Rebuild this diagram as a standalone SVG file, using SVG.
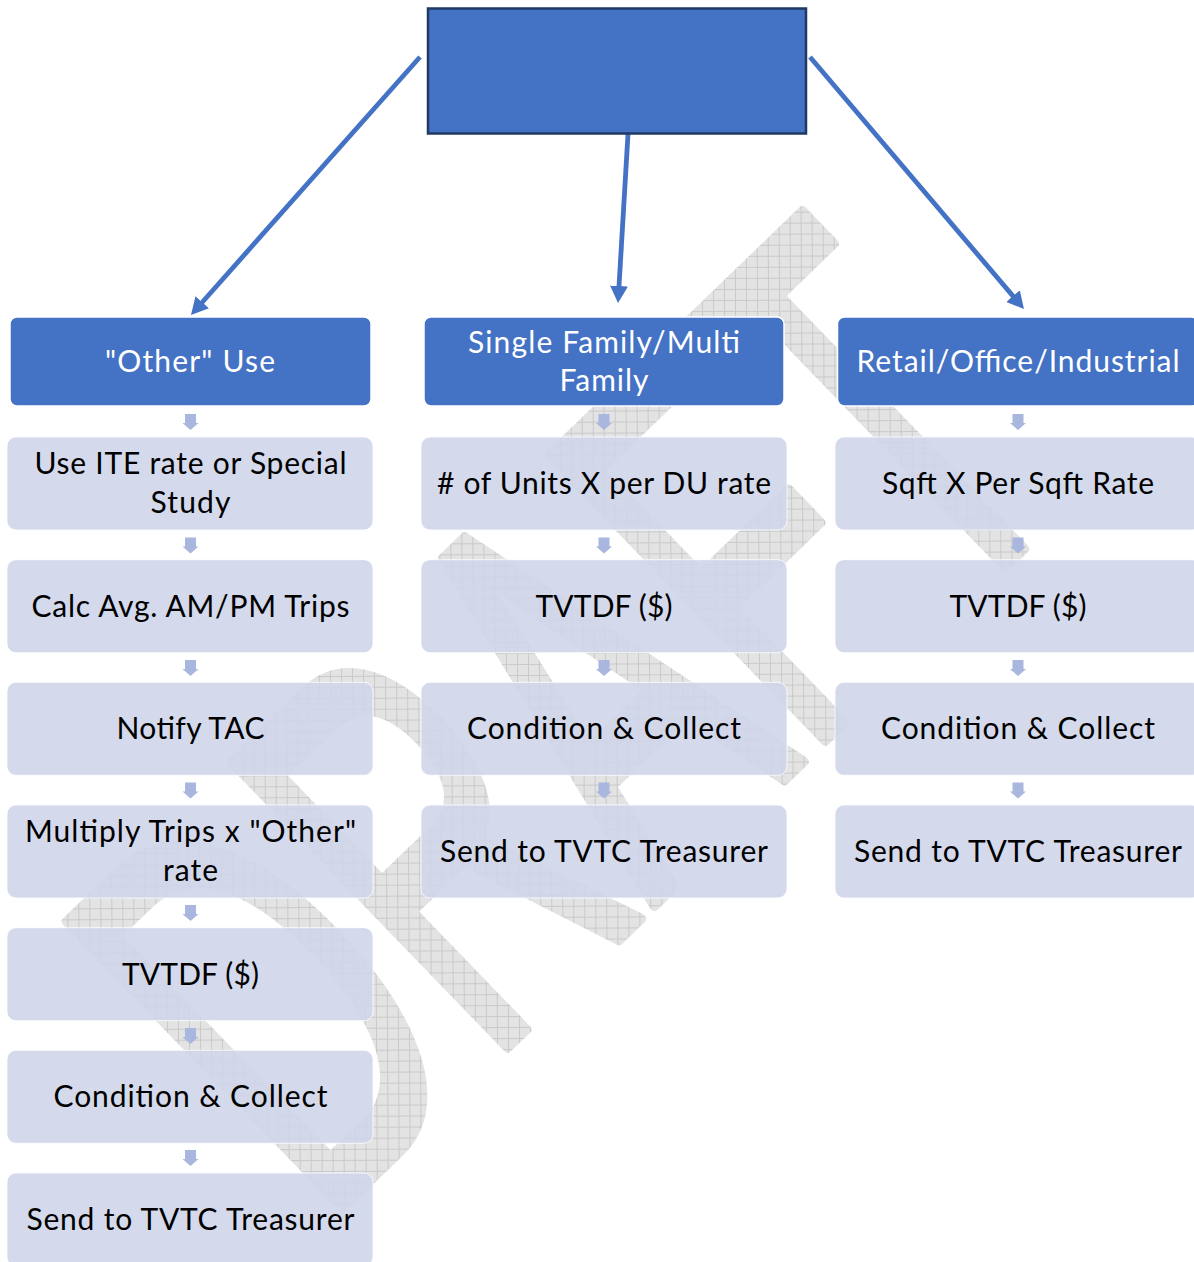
<svg xmlns="http://www.w3.org/2000/svg" xmlns:xlink="http://www.w3.org/1999/xlink" width="1194" height="1262" viewBox="0 0 1194 1262">
<defs>
<pattern id="grid" patternUnits="userSpaceOnUse" width="11" height="11" patternTransform="scale(1.808,1) rotate(43.7)">
<rect width="11" height="11" fill="#E3E3E3"/>
<path d="M0 0.5H11M0.5 0V11" stroke="#C9C9C9" stroke-width="1"/>
</pattern>
<marker id="ah" markerUnits="userSpaceOnUse" markerWidth="18" markerHeight="18" refX="7" refY="9" orient="auto">
<path d="M0,0 L17,9 L0,18 z" fill="#4472C4"/>
</marker>
<path id="sa" d="M-5.5,0 h11 v9 h2.5 l-8,7 l-8,-7 h2.5 z" fill="#A9B6DD"/>
</defs>
<style>
.hd{fill:#4472C4;stroke:#ffffff;stroke-width:1.5}
.bx{fill:#CFD5EA;fill-opacity:0.9;stroke:#ffffff;stroke-width:1;stroke-opacity:0.8}
.t{font-family:Lato,"Open Sans",sans-serif;font-size:30px;text-anchor:middle;fill:#000000}
.tw{fill:#ffffff}
.cn{stroke:#4472C4;stroke-width:4.8;fill:none;marker-end:url(#ah)}
</style>
<rect width="1194" height="1262" fill="#ffffff"/>
<g id="watermark">
<text transform="translate(322,1226) rotate(-44) scale(0.553,1)" font-family="'Liberation Sans', Arial, sans-serif" font-size="575" fill="url(#grid)" stroke="url(#grid)" stroke-width="9" stroke-linejoin="round" vector-effect="non-scaling-stroke">DRAFT</text>
</g>
<g id="connectors">
<line class="cn" x1="420" y1="57" x2="197.6" y2="307.5"/>
<line class="cn" x1="628" y1="134" x2="618.6" y2="293"/>
<line class="cn" x1="810" y1="57" x2="1017.5" y2="301.4"/>
<use href="#sa" x="190.5" y="414"/>
<use href="#sa" x="190.5" y="537.5"/>
<use href="#sa" x="190.5" y="660"/>
<use href="#sa" x="190.5" y="782.5"/>
<use href="#sa" x="190.5" y="905"/>
<use href="#sa" x="190.5" y="1028"/>
<use href="#sa" x="190.5" y="1150"/>
<use href="#sa" x="604" y="414"/>
<use href="#sa" x="604" y="537.5"/>
<use href="#sa" x="604" y="660"/>
<use href="#sa" x="604" y="782.5"/>
<use href="#sa" x="1018" y="414"/>
<use href="#sa" x="1018" y="537.5"/>
<use href="#sa" x="1018" y="660"/>
<use href="#sa" x="1018" y="782.5"/>
</g>
<g id="root">
<rect x="428" y="8.5" width="378" height="125" fill="#4472C4" stroke="#1F3864" stroke-width="2.5"/>
</g>
<g id="h-other">
<rect class="hd" x="10" y="317" width="361" height="89" rx="7"/>
<text class="t tw" x="190" y="371.5" textLength="170">"Other" Use</text>
</g>
<g id="h-single">
<rect class="hd" x="424" y="317" width="360" height="89" rx="7"/>
<text class="t tw" x="604" y="353" textLength="272">Single Family/Multi</text>
<text class="t tw" x="604" y="391" textLength="89">Family</text>
</g>
<g id="h-retail">
<rect class="hd" x="837.5" y="317" width="361" height="89" rx="7"/>
<text class="t tw" x="1018" y="371.5" textLength="323">Retail/Office/Industrial</text>
</g>
<g id="o1">
<rect class="bx" x="7" y="437" width="366" height="93" rx="9"/>
<text class="t" x="190.5" y="474" textLength="312">Use ITE rate or Special</text>
<text class="t" x="190.5" y="513" textLength="80">Study</text>
</g>
<g id="o2">
<rect class="bx" x="7" y="559.7" width="366" height="93" rx="9"/>
<text class="t" x="190.5" y="616.7" textLength="318">Calc Avg. AM/PM Trips</text>
</g>
<g id="o3">
<rect class="bx" x="7" y="682.3" width="366" height="93" rx="9"/>
<text class="t" x="190.5" y="739.3" textLength="148">Notify TAC</text>
</g>
<g id="o4">
<rect class="bx" x="7" y="805" width="366" height="93" rx="9"/>
<text class="t" x="190.5" y="842" textLength="331">Multiply Trips x "Other"</text>
<text class="t" x="190.5" y="880.5" textLength="55">rate</text>
</g>
<g id="o5">
<rect class="bx" x="7" y="927.7" width="366" height="93" rx="9"/>
<text class="t" x="190.5" y="984.5" textLength="137">TVTDF ($)</text>
</g>
<g id="o6">
<rect class="bx" x="7" y="1050.3" width="366" height="93" rx="9"/>
<text class="t" x="190.5" y="1107.3" textLength="274">Condition &amp; Collect</text>
</g>
<g id="o7">
<rect class="bx" x="7" y="1173" width="366" height="93" rx="9"/>
<text class="t" x="190.5" y="1230" textLength="328">Send to TVTC Treasurer</text>
</g>
<g id="s1">
<rect class="bx" x="421" y="437" width="366" height="93" rx="9"/>
<text class="t" x="604" y="494" textLength="334"># of Units X per DU rate</text>
</g>
<g id="s2">
<rect class="bx" x="421" y="559.7" width="366" height="93" rx="9"/>
<text class="t" x="604" y="616.7" textLength="137">TVTDF ($)</text>
</g>
<g id="s3">
<rect class="bx" x="421" y="682.3" width="366" height="93" rx="9"/>
<text class="t" x="604" y="739.3" textLength="274">Condition &amp; Collect</text>
</g>
<g id="s4">
<rect class="bx" x="421" y="805" width="366" height="93" rx="9"/>
<text class="t" x="604" y="862" textLength="328">Send to TVTC Treasurer</text>
</g>
<g id="r1">
<rect class="bx" x="835" y="437" width="366" height="93" rx="9"/>
<text class="t" x="1018" y="494" textLength="272">Sqft X Per Sqft Rate</text>
</g>
<g id="r2">
<rect class="bx" x="835" y="559.7" width="366" height="93" rx="9"/>
<text class="t" x="1018" y="616.7" textLength="137">TVTDF ($)</text>
</g>
<g id="r3">
<rect class="bx" x="835" y="682.3" width="366" height="93" rx="9"/>
<text class="t" x="1018" y="739.3" textLength="274">Condition &amp; Collect</text>
</g>
<g id="r4">
<rect class="bx" x="835" y="805" width="366" height="93" rx="9"/>
<text class="t" x="1018" y="862" textLength="328">Send to TVTC Treasurer</text>
</g>
</svg>
